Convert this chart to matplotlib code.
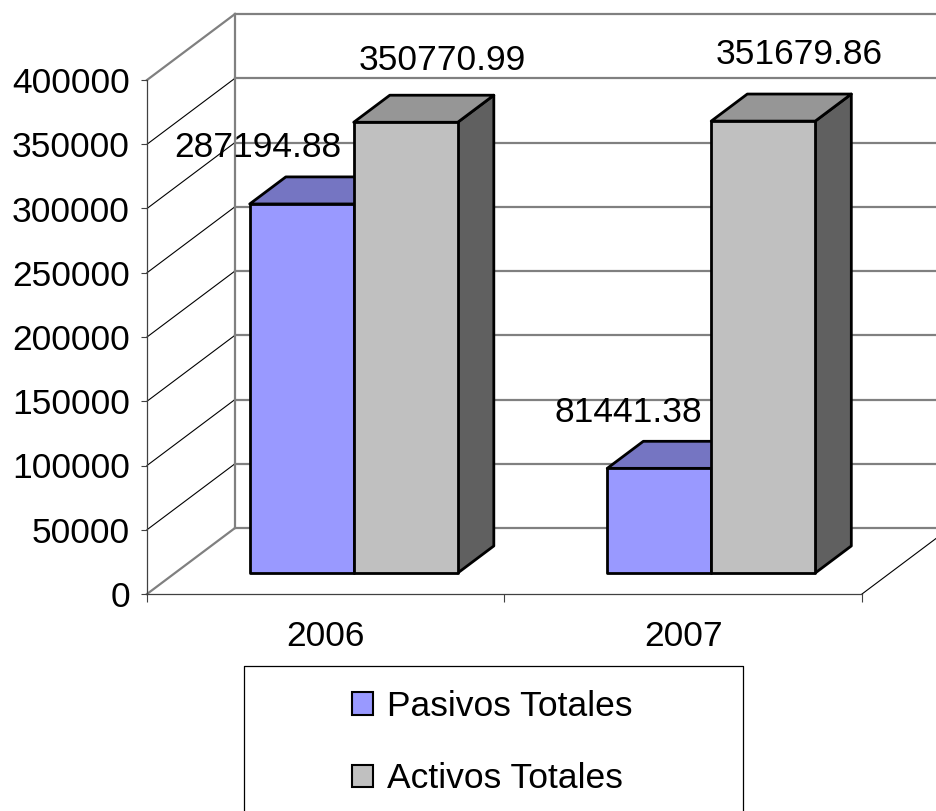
import matplotlib
matplotlib.use("Agg")
import matplotlib.pyplot as plt
from matplotlib.patches import Polygon, Patch
from matplotlib.lines import Line2D

plt.rcParams['font.family'] = ['Liberation Sans', 'DejaVu Sans']

# ---- data ----
categories = ["2006", "2007"]
series_names = ["Pasivos Totales", "Activos Totales"]
pasivos = [287194.88, 81441.38]
activos = [350770.99, 351679.86]
y_ticks = [0, 50000, 100000, 150000, 200000, 250000, 300000, 350000, 400000]

# ---- style ----
front_cols = ["#9999FF", "#C0C0C0"]
top_cols = ["#7575C2", "#969696"]
side_cols = ["#4C4C99", "#606060"]
FS = 25.5
W, H = 937, 811
DPI = 100

fig = plt.figure(figsize=(W / DPI, H / DPI), dpi=DPI)
# front plane of the 3D box
ax_l, ax_r, ax_t, ax_b = 147, 862, 80, 594
ax = fig.add_axes([ax_l / W, 1 - ax_b / H, (ax_r - ax_l) / W, (ax_b - ax_t) / H])
ymax = 400000
ax.set_xlim(0, 2)
ax.set_ylim(0, ymax)
ax.patch.set_visible(False)

# depth offsets in data units
DX = 88 / (ax_r - ax_l) * 2
DY = 66 / (ax_b - ax_t) * ymax

def proj(x, v, d):
    return (x + d * DX, v + d * DY)

grid_gray = "#808080"
# back wall gridlines + top
for v in y_ticks:
    p0 = proj(0, v, 1); p1 = proj(2, v, 1)
    ax.add_line(Line2D([p0[0], p1[0]], [p0[1], p1[1]], color=grid_gray, lw=1.6, clip_on=False, zorder=1))
    # left wall diagonals
    q0 = proj(0, v, 0)
    thick = v in (0, ymax)
    ax.add_line(Line2D([q0[0], p0[0]], [q0[1], p0[1]], color=grid_gray if thick else "black",
                       lw=1.6 if thick else 0.8, clip_on=False, zorder=1))
# back wall left vertical edge
b0 = proj(0, 0, 1); b1 = proj(0, ymax, 1)
ax.add_line(Line2D([b0[0], b1[0]], [b0[1], b1[1]], color=grid_gray, lw=1.6, clip_on=False, zorder=1))
# floor right diagonal
r0 = proj(2, 0, 0); r1 = proj(2, 0, 1)
ax.add_line(Line2D([r0[0], r1[0]], [r0[1], r1[1]], color="black", lw=0.8, clip_on=False, zorder=1))

# bars
bw = 104 / ((ax_r - ax_l) / 2)
d0, d1 = 0.318, 0.728
label_offsets = [[(-44, 56), (37, 62)], [(-31, 56), (36, 67)]]
for i, cat in enumerate(categories):
    for s, vals in enumerate([pasivos, activos]):
        v = vals[i]
        xl = i + 0.5 - bw + s * bw
        xr = xl + bw
        z = 3 + s
        side = [proj(xr, 0, d0), proj(xr, 0, d1), proj(xr, v, d1), proj(xr, v, d0)]
        ax.add_patch(Polygon(side, closed=True, fc=side_cols[s], ec="black", lw=2, clip_on=False, zorder=z, joinstyle="round"))
        top = [proj(xl, v, d0), proj(xr, v, d0), proj(xr, v, d1), proj(xl, v, d1)]
        ax.add_patch(Polygon(top, closed=True, fc=top_cols[s], ec="black", lw=2, clip_on=False, zorder=z, joinstyle="round"))
        front = [proj(xl, 0, d0), proj(xr, 0, d0), proj(xr, v, d0), proj(xl, v, d0)]
        ax.add_patch(Polygon(front, closed=True, fc=front_cols[s], ec="black", lw=2, clip_on=False, zorder=z, joinstyle="round"))
        fx, fy = proj((xl + xr) / 2, v, d0)
        ox, oy = label_offsets[i][s]
        ax.annotate(f"{v:.2f}", xy=(fx, fy), xytext=(ox, oy), textcoords="offset pixels",
                    ha="center", va="center", fontsize=FS, zorder=10, annotation_clip=False)

# axes / ticks
for sp in ["top", "right"]:
    ax.spines[sp].set_visible(False)
for sp in ["left", "bottom"]:
    ax.spines[sp].set_color("#404040")
    ax.spines[sp].set_linewidth(0.9)
    ax.spines[sp].set_zorder(2)
ax.set_yticks(y_ticks)
ax.set_yticklabels([str(t) for t in y_ticks], fontsize=FS)
ax.tick_params(axis="y", direction="out", length=4.3, width=0.8, color="#404040", pad=8)
ax.set_xticks([0, 1, 2])
ax.set_xticklabels(["", "", ""])
ax.tick_params(axis="x", which="major", direction="out", length=5.8, width=0.8, color="#404040")
ax.set_xticks([0.5, 1.5], minor=True)
ax.set_xticklabels(categories, minor=True, fontsize=FS)
ax.tick_params(axis="x", which="minor", length=0, pad=18.5)

# legend
handles = [Patch(facecolor=front_cols[k], edgecolor="black", lw=1.5, label=series_names[k]) for k in range(2)]
ax.legend(handles=handles, frameon=False, loc="upper left",
          bbox_to_anchor=(352 / W, 1 - 690 / H), bbox_transform=fig.transFigure,
          borderpad=0, borderaxespad=0, handlelength=0.6, handleheight=0.6,
          handletextpad=0.4, labelspacing=1.11, fontsize=FS)
fl, fr, ft = 244 / W, 743 / W, 1 - 666 / H
fig.add_artist(Line2D([fl, fl, fr, fr], [-0.05, ft, ft, -0.05], transform=fig.transFigure,
                      color="black", lw=0.9))

fig.savefig("out.png", dpi=DPI)
